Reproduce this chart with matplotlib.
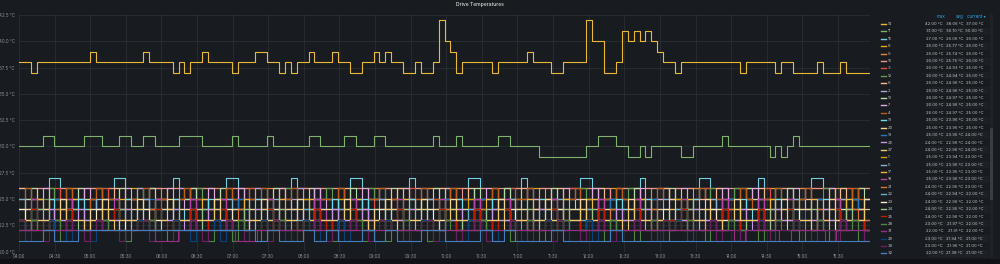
import numpy as np
import matplotlib
matplotlib.use('Agg')
from matplotlib import pyplot as plt
from matplotlib.lines import Line2D
from matplotlib.patches import Rectangle

plt.rcParams['font.family'] = ['Inter', 'DejaVu Sans']

# time range of the panel (hours)
t_start = 4.0
t_end = 15.95

tick_labels = ['04:00', '04:30', '05:00', '05:30', '06:00', '06:30', '07:00', '07:30',
               '08:00', '08:30', '09:00', '09:30', '10:00', '10:30', '11:00', '11:30',
               '12:00', '12:30', '13:00', '13:30', '14:00', '14:30', '15:00', '15:30']
y_ticks = [20.0, 22.5, 25.0, 27.5, 30.0, 32.5, 35.0, 37.5, 40.0, 42.5]

# each trace: one digit per sample, temperature = base + digit
yellow_trace = ('33' '2' '333333333' '4' '33333333' '4' '3333' '232' '33' '4' '3333' '2' '333'
                '44' '33' '232' '33' '4' '333' '4' '33' '22' '33' '4' '3' '4' '33' '22' '3'
                '22' '3' '7' '5' '4' '2' '3333' '3' '2' '33333' '4' '333' '22' '3333' '7'
                '55' '22' '3' '6565654' '33' '2' '333' '3333333' '2' '33333' '2' '33'
                '2222' '3' '222' '3' '2222')
green_trace = ('5555' '66' '55555' '666' '555' '66' '55' '66' '5555' '6666' '55555' '6'
               '55555' '6' '555555' '66' '5555' '66' '555' '66' '55555555' '6' '555' '6'
               '555555' '66' '55555' '44444444' '55' '666' '55' '44' '5' '4' '55555' '44'
               '55555' '6' '5555555' '4' '5' '4' '5' '6' '555555555555')

bottom_traces = [
    # around 26 °C
    "666667766656666677666566667666656667766665666676666566667766656666766665666677666566676666566667766656666766665666677666566667666656667766665666",
    "665666656665666656666566566665666656656666566656665666656666566566665666656656666566656665666656666566566665666656656666566656665666656666566566",
    "666556665666665666556666566656666655666566665666656655666656666566556666656665666566665566665666566656666556665666656665666566556666656665666566",
    "656666566566665666556666656656666566665666566566665666656665566666566566665666656665666566556666656656666566665666566566665666656665566666566566",
    # around 25 °C
    "554555645554556555455565545556555455545655545556554555465554555455655545554565554556555455545655545556455545565554556455545555645554565545556545",
    "545556554555465554556545554555645556555455545655545565545556554556545554565554555465554555645556554555465545556554555645565554556545554565554555",
    "655545556455545565554565545556554555465554556545556555465545554565545556554565554555465545565554556545556554565545555465554556545565554555465545",
    "455565545554565554556545554655545556554565545556545554655545565545556554565554556545556455545565554556545554655545565554556545556554565545554655",
    "556545554565545556555465545556554565554555465545565554556545554655545565545556554565545554655545565554556545556554565545554655545565545556554565",
    "545565554556545554655545565545556554565554556545556455545565554556545554655545565554556545556554565545554655545565545556554565554556545556455545",
    "565545556554565545554655545565554556545556554565545554655545565545556554565554556545556455545565554556545554655545565554556545556554565545554655",
    # around 24 °C
    "443444534443445444344454434445443444354443445434445443444534443445444344543444534443445434445443444354443445434445443444534443445444344543444534",
    "434445443444354443445434445443444534443445444344543444534443445434445443444354443445434445443444534443445444344543444534443445434445443444354443",
    "544434445443454443444534443445434445443444354443445434445443454443444534443445434445443444354443445434445443454443444534443445434445443444354443",
    "344543444534443445434445443444354443445434445443454443444534443445434445443444354443445434445443454443444534443445434445443444354443445434445443",
    "445434445443444354443445434445443454443444534443445434445443444354443445434445443454443444534443445434445443444354443445434445443454443444534443",
    "434445443454443444534443445434445443444354443445434445443454443444534443445434445443444354443445434445443454443444534443445434445443444354443445",
    "443444354443445434445443454443444534443445434445443444354443445434445443454443444534443445434445443444354443445434445443454443444534443445434445",
    # around 23 °C
    "332333423332334333233343323334332333243332334323334332333423332334333233432333423332334323334332333243332334323334332333423332334333233432333423",
    "323334332333243332334323334332333423332334333233432333423332334323334332333243332334323334332333423332334333233432333423332334323334332333243332",
    "433323334332343332333423332334323334332333243332334323334332343332333423332334323334332333243332334323334332343332333423332334323334332333243332",
    "233432333423332334323334332333243332334323334332343332333423332334323334332333243332334323334332343332333423332334323334332333243332334323334332",
    "334323334332333243332334323334332343332333423332334323334332333243332334323334332343332333423332334323334332333243332334323334332343332333423332",
    "323334332343332333423332334323334332333243332334323334332343332333423332334323334332333243332334323334332343332333423332334323334332333243332334",
    "332333243332334323334332343332333423332334323334332333243332334323334332343332333423332334323334332333243332334323334332343332333423332334323334",
    # around 22 °C
    "223222312221223222122232212223221222132221223212223221222312221223222122321222312221223212223221222132221223212223221222312221223222122321222312",
    "212223221222132221223212223221222312221223222122321222312221223212223221222132221223212223221222312221223222122321222312221223212223221222132221",
    "322212223221232221222312221223212223221222132221223212223221232221222312221223212223221222132221223212223221232221222312221223212223221222132221",
    # bottom two drives
    "222222222222112222211222222222222222222222222222222222222222222122212221222",
    "112112222222222222221211212112121122111212111211112111111111111111111111",
]

traces = [yellow_trace, green_trace] + bottom_traces
bases = [35, 25] + [20] * len(bottom_traces)
names = ['14', '11', '15', '8', '9', '16', '3', '12', '6', '2', '10', '7', '4', '13', '1', '5',
         '17', '18', '19', '20', '21', '22', '23', '24', '25', '26', '27', '28', '29', '30',
         '31', '32']
colors = ['#EAB839', '#7EB26D',
          '#6ED0E0', '#E5AC0E', '#EF843C', '#F29191',
          '#E24D42', '#629E51', '#F9BA8F', '#AEA2E0', '#B7DBAB', '#E5A8E2', '#C15C17',
          '#1F78C1', '#CCA300', '#82B5D8', '#EAB839', '#BA43A9', '#70DBED', '#F4D598',
          '#E0752D', '#64B0C8', '#FCEACA', '#9AC48A', '#BF1B00', '#CA95E5', '#F2C96D',
          '#508642', '#0A437C', '#6D1F62', '#962D82', '#447EBF']

W, H = 1000, 264
fig = plt.figure(figsize=(W / 100, H / 100), dpi=100, facecolor='#111217')


def fx(x):
    return x / W


def fy(y):
    return 1 - y / H


panel = Rectangle((0, fy(259)), 1, fy(0) - fy(259), transform=fig.transFigure,
                  facecolor='#181b1f', edgecolor='none', zorder=-10)
fig.patches.append(panel)

fig.text(fx(480), fy(6.3), 'Drive Temperatures', color='#d8d9da', fontsize=3.6,
         ha='center', va='baseline', fontweight='medium')

ax = fig.add_axes([fx(19), fy(251.5), fx(870) - fx(19), fy(15) - fy(251.5)])
ax.set_facecolor('#181b1f')

vals_all = []
for trace, base, color in zip(traces, bases, colors):
    v = np.array([base + int(c) for c in trace], dtype=float)
    vals_all.append(v)
    step = (t_end - t_start) / len(v)
    x = t_start + np.arange(len(v) + 1) * step
    y = np.append(v, v[-1])
    ax.step(x, y, where='post', color=color, lw=0.8)

ax.set_xlim(t_start, t_end)
ax.set_ylim(20, 42.5)
xt = [int(s[:2]) + int(s[3:]) / 60 for s in tick_labels]
ax.set_xticks(xt)
ax.set_xticklabels(tick_labels)
ax.set_yticks(y_ticks)
ax.set_yticklabels([f'{v:.1f} °C' for v in y_ticks])
ax.tick_params(length=0, labelsize=3.2, colors='#8e9094')
ax.tick_params(axis='x', pad=1.5)
ax.tick_params(axis='y', pad=3)
ax.grid(color='#2b2d32', lw=0.6)
ax.set_axisbelow(True)
for s in ax.spines.values():
    s.set_visible(False)

# legend table on the right
maxs = [v.max() for v in vals_all]
avgs = [v.mean() for v in vals_all]
curs = [v[-1] for v in vals_all]
order = sorted(range(len(vals_all)), key=lambda i: -curs[i])

hdr = '#33a2e5'
for xr, label in zip([945, 963, 986], ['max', 'avg', 'current ▾']):
    fig.text(fx(xr), fy(18.2), label, color=hdr, fontsize=3.2, ha='right', va='baseline')

for r, i in enumerate(order):
    y = 24 + r * 7.4
    if y > 257:
        break
    if r % 2 == 1:
        fig.patches.append(Rectangle((fx(927), fy(y + 3.6)), fx(989) - fx(927), 7.2 / H,
                                     transform=fig.transFigure, facecolor='#1d2025',
                                     edgecolor='none', zorder=-5))
    fig.lines.append(Line2D([fx(881), fx(886)], [fy(y), fy(y)], transform=fig.transFigure,
                            color=colors[i], lw=1.0))
    fig.text(fx(888), fy(y + 1.1), names[i], color='#c7c8ca', fontsize=3.0, va='baseline')
    for xr, val in zip([943, 963, 983], [maxs[i], avgs[i], curs[i]]):
        fig.text(fx(xr), fy(y + 1.1), f'{val:.2f} °C', color='#c7c8ca', fontsize=3.0,
                 ha='right', va='baseline')

# scrollbar
fig.patches.append(Rectangle((fx(990), fy(258)), fx(993) - fx(990), fy(14) - fy(258),
                             transform=fig.transFigure, facecolor='#202227', edgecolor='none'))
fig.patches.append(Rectangle((fx(990), fy(200)), fx(993) - fx(990), fy(128) - fy(200),
                             transform=fig.transFigure, facecolor='#3a3d44', edgecolor='none'))

fig.savefig('out.png', dpi=100, facecolor=fig.get_facecolor())
